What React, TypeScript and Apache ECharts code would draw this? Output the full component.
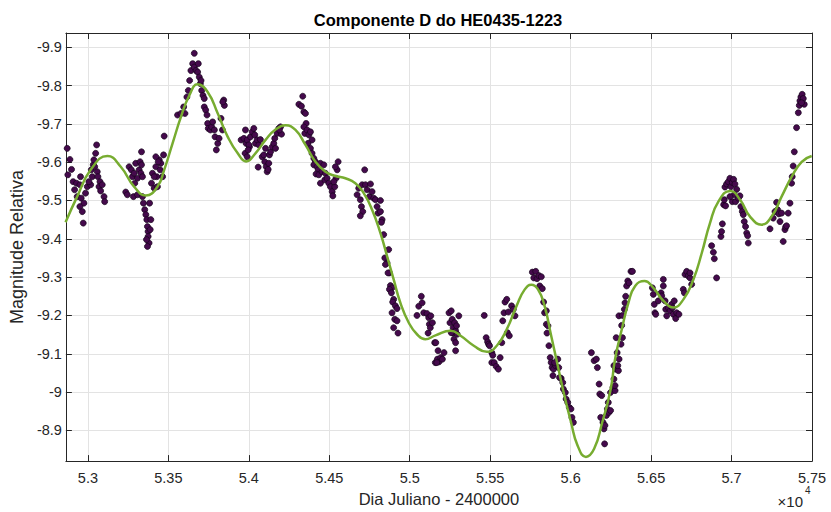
import React, { useEffect, useRef } from "react";
import * as echarts from "echarts";

// Fitted curve (Julian day - 2400000, relative magnitude)
const fitDays = [
  52861, 52933, 53017, 53121, 53204, 53287, 53360, 53432, 53474, 53526, 53578, 53630, 53682, 53744, 53807, 53869,
  53931, 53983, 54041, 54104, 54166, 54228, 54290, 54352, 54414, 54476, 54538, 54600, 54662, 54714, 54766, 54818,
  54859, 54900, 54942, 54994, 55045, 55097, 55160, 55254, 55316, 55398, 55480, 55541, 55603, 55664, 55715, 55756,
  55797, 55838, 55879, 55920, 55961, 56002, 56043, 56095, 56146, 56197, 56248, 56276, 56318, 56359, 56401, 56459,
  56514, 56577, 56639, 56701, 56763, 56815, 56866, 56918, 56991, 57053, 57115, 57187, 57249, 57311, 57374, 57436,
  57498,
];
const fitMag = [
  -9.443, -9.51, -9.58, -9.616, -9.588, -9.536, -9.513, -9.536, -9.58, -9.649, -9.718, -9.774, -9.803, -9.783, -9.727, -9.666,
  -9.623, -9.602, -9.623, -9.658, -9.685, -9.696, -9.684, -9.645, -9.601, -9.575, -9.564, -9.558, -9.545, -9.519, -9.476, -9.415,
  -9.355, -9.294, -9.233, -9.181, -9.151, -9.138, -9.148, -9.16, -9.147, -9.121, -9.105, -9.121, -9.164, -9.225, -9.268, -9.28,
  -9.268, -9.225, -9.147, -9.069, -8.991, -8.922, -8.861, -8.831, -8.852, -8.922, -9.006, -9.086, -9.164, -9.233, -9.277, -9.29,
  -9.272, -9.238, -9.221, -9.242, -9.294, -9.363, -9.441, -9.497, -9.525, -9.502, -9.458, -9.437, -9.458, -9.51, -9.562, -9.601,
  -9.616,
];

// Observations [day, magnitude], grouped by observing season
const obsA = [
  [52861, -9.649], [52871, -9.636], [52861, -9.617], [52888, -9.607], [52875, -9.567], [52898, -9.581], [52908, -9.549],
  [52929, -9.545], [52917, -9.528], [52954, -9.562], [52950, -9.541], [52933, -9.51], [52958, -9.506], [52975, -9.493],
  [52950, -9.484], [52965, -9.471], [52971, -9.441], [52985, -9.519], [52996, -9.536], [53017, -9.541], [53027, -9.562],
  [53021, -9.58], [53033, -9.593], [53037, -9.606], [53048, -9.623], [53054, -9.645], [53042, -9.588], [53058, -9.575],
  [53062, -9.562], [53075, -9.549], [53069, -9.536], [53089, -9.541], [53079, -9.525], [53100, -9.51], [53104, -9.497],
  [53006, -9.549],
];
const obsB = [
  [53235, -9.522], [53245, -9.515], [53256, -9.588], [53270, -9.58], [53277, -9.562], [53287, -9.571], [53291, -9.545],
  [53297, -9.597], [53308, -9.558], [53318, -9.58], [53324, -9.601], [53329, -9.571], [53333, -9.593], [53339, -9.562],
  [53283, -9.51], [53308, -9.515], [53339, -9.51], [53333, -9.627], [53345, -9.493], [53353, -9.476], [53360, -9.463],
  [53366, -9.45], [53370, -9.432], [53374, -9.419], [53374, -9.406], [53380, -9.389], [53370, -9.38], [53364, -9.398],
  [53387, -9.424], [53391, -9.45], [53383, -9.493], [53395, -9.545], [53401, -9.571], [53412, -9.532], [53422, -9.588],
  [53428, -9.562], [53432, -9.536], [53443, -9.606], [53449, -9.58], [53453, -9.597], [53464, -9.562], [53422, -9.614],
  [53470, -9.619], [53437, -9.601], [53412, -9.562], [53474, -9.668],
];
const obsC = [
  [53557, -9.723], [53578, -9.727], [53595, -9.744], [53603, -9.727], [53615, -9.77], [53624, -9.787], [53632, -9.813],
  [53640, -9.839], [53651, -9.857], [53661, -9.884], [53661, -9.848], [53672, -9.839], [53682, -9.835], [53686, -9.857],
  [53692, -9.822], [53699, -9.805], [53703, -9.813], [53707, -9.787], [53715, -9.774], [53723, -9.766], [53723, -9.744],
  [53732, -9.736], [53740, -9.723], [53744, -9.701], [53748, -9.688], [53761, -9.684], [53769, -9.692], [53775, -9.705],
  [53786, -9.684], [53790, -9.666], [53798, -9.632], [53807, -9.649], [53815, -9.662], [53827, -9.714], [53836, -9.684],
  [53844, -9.762], [53848, -9.748], [53838, -9.757],
];
const obsD = [
  [53952, -9.658], [53969, -9.662], [53983, -9.649], [53977, -9.623], [53990, -9.614], [54004, -9.64], [53979, -9.684],
  [53990, -9.658], [54000, -9.645], [53996, -9.632], [54010, -9.666], [54021, -9.679], [54031, -9.688], [54037, -9.671],
  [54041, -9.649], [54052, -9.658], [54062, -9.645], [54072, -9.659], [54058, -9.587], [54083, -9.614], [54093, -9.619],
  [54099, -9.601], [54108, -9.588], [54114, -9.575], [54120, -9.581], [54104, -9.636], [54124, -9.597], [54128, -9.619],
  [54135, -9.627], [54145, -9.64], [54155, -9.649], [54161, -9.662], [54166, -9.636], [54176, -9.675], [54186, -9.688],
  [54197, -9.692], [54203, -9.673], [54190, -9.684],
];
const obsE = [
  [54311, -9.751], [54327, -9.746], [54335, -9.772], [54342, -9.731], [54352, -9.727], [54356, -9.701], [54342, -9.692],
  [54348, -9.675], [54362, -9.684], [54373, -9.671], [54383, -9.679], [54393, -9.658], [54368, -9.649], [54383, -9.636],
  [54393, -9.623], [54404, -9.61], [54414, -9.601], [54404, -9.593], [54424, -9.588], [54431, -9.58], [54418, -9.569],
  [54435, -9.567], [54445, -9.597], [54455, -9.575], [54466, -9.593], [54476, -9.571], [54445, -9.545], [54472, -9.554],
  [54486, -9.558], [54497, -9.545], [54507, -9.536], [54518, -9.523], [54522, -9.512], [54534, -9.536], [54542, -9.558],
  [54549, -9.58], [54555, -9.601], [54538, -9.588], [54528, -9.549],
];
const obsF = [
  [54673, -9.515], [54683, -9.532], [54693, -9.502], [54704, -9.541], [54700, -9.484], [54708, -9.471], [54693, -9.46],
  [54720, -9.58], [54725, -9.541], [54735, -9.528], [54756, -9.543], [54749, -9.51], [54766, -9.523], [54776, -9.506],
  [54787, -9.502], [54797, -9.484], [54803, -9.467], [54818, -9.5], [54818, -9.471], [54828, -9.45], [54824, -9.443],
  [54838, -9.411], [54869, -9.372], [54845, -9.35], [54859, -9.337], [54849, -9.333], [54874, -9.311], [54865, -9.311],
  [54880, -9.278], [54890, -9.272], [54874, -9.268], [54886, -9.259], [54900, -9.242], [54894, -9.235], [54911, -9.225],
  [54921, -9.218], [54907, -9.19], [54921, -9.186], [54900, -9.168], [54927, -9.154], [54890, -9.207],
];
const obsG = [
  [55045, -9.2], [55056, -9.224], [55072, -9.25], [55077, -9.233], [55087, -9.207], [55107, -9.205], [55118, -9.194],
  [55122, -9.177], [55114, -9.154], [55128, -9.168], [55155, -9.129], [55159, -9.077], [55131, -9.199], [55141, -9.181],
  [55162, -9.129], [55176, -9.108], [55172, -9.086], [55182, -9.079], [55193, -9.09], [55203, -9.086], [55213, -9.103],
  [55168, -9.077], [55244, -9.207], [55250, -9.181], [55258, -9.212], [55264, -9.19], [55270, -9.168], [55279, -9.181],
  [55285, -9.16], [55291, -9.173], [55275, -9.138], [55270, -9.154], [55258, -9.155], [55285, -9.129], [55295, -9.151],
  [55305, -9.199], [55285, -9.108],
];
const obsH = [
  [55463, -9.2], [55475, -9.142], [55484, -9.131], [55490, -9.125], [55496, -9.121], [55510, -9.103], [55516, -9.096],
  [55510, -9.077], [55525, -9.077], [55537, -9.067], [55551, -9.06], [55562, -9.09], [55572, -9.129], [55578, -9.186],
  [55586, -9.207], [55592, -9.235], [55603, -9.242], [55613, -9.209], [55607, -9.155], [55619, -9.147], [55633, -9.225],
  [55644, -9.216], [55654, -9.199],
];
const obsI = [
  [55762, -9.313], [55771, -9.298], [55783, -9.315], [55791, -9.296], [55803, -9.304], [55818, -9.301], [55808, -9.277],
  [55824, -9.27], [55832, -9.235], [55838, -9.207], [55849, -9.212], [55849, -9.177], [55859, -9.173], [55853, -9.154],
  [55865, -9.121], [55873, -9.09], [55879, -9.077], [55885, -9.064], [55894, -9.06], [55890, -9.043], [55906, -9.069],
  [55920, -9.086], [55926, -9.064], [55941, -9.036], [55951, -9.025], [55955, -9.008], [55967, -8.999], [55972, -8.982],
  [55982, -8.973], [55992, -8.96], [56002, -8.956], [56008, -8.934], [56017, -8.921], [55931, -9.038], [55900, -9.077],
];
const obsJ = [
  [56129, -9.103], [56146, -9.082], [56160, -9.086], [56166, -9.064], [56177, -9.021], [56181, -8.995], [56193, -8.991],
  [56187, -8.934], [56201, -8.921], [56207, -8.904], [56213, -8.913], [56222, -8.939], [56228, -8.956], [56234, -8.973],
  [56238, -8.947], [56248, -8.952], [56211, -8.865], [56248, -8.999], [56263, -9.012], [56269, -9.034], [56279, -9.06],
  [56289, -9.103], [56283, -9.142], [56300, -9.199], [56269, -9.069], [56276, -9.004], [56276, -9.017], [56297, -9.056],
  [56293, -9.069], [56301, -9.086], [56313, -9.125], [56322, -9.142], [56317, -9.174], [56322, -9.2], [56334, -9.216],
  [56338, -9.233], [56342, -9.25], [56348, -9.277], [56355, -9.29], [56363, -9.285], [56375, -9.315], [56384, -9.315],
];
const obsK = [
  [56508, -9.272], [56514, -9.255], [56520, -9.229], [56524, -9.207], [56529, -9.203], [56545, -9.238], [56562, -9.259],
  [56566, -9.251], [56576, -9.277], [56576, -9.294], [56587, -9.238], [56591, -9.216], [56597, -9.199], [56607, -9.22],
  [56618, -9.212], [56628, -9.229], [56638, -9.203], [56644, -9.238], [56653, -9.192], [56659, -9.207], [56673, -9.203],
  [56632, -9.22], [56700, -9.268], [56707, -9.259], [56711, -9.307], [56721, -9.315], [56731, -9.303], [56742, -9.298],
  [56752, -9.281], [56742, -9.311],
];
const obsL = [
  [56876, -9.382], [56887, -9.365], [56893, -9.348], [56907, -9.298], [56934, -9.406], [56938, -9.419], [56943, -9.439],
  [56951, -9.489], [56955, -9.502], [56959, -9.535], [56969, -9.543], [56980, -9.549], [56990, -9.558], [56996, -9.536],
  [57005, -9.547], [57013, -9.555], [57021, -9.543], [57032, -9.529], [57017, -9.515], [57005, -9.497], [56990, -9.51],
  [57025, -9.497], [57042, -9.506], [57052, -9.512], [57058, -9.484], [57067, -9.471], [57079, -9.445], [57087, -9.432],
  [57094, -9.415], [57100, -9.408], [57104, -9.389], [57073, -9.463], [56963, -9.486],
];
const obsM = [
  [57239, -9.426], [57259, -9.454], [57270, -9.471], [57280, -9.495], [57286, -9.476], [57294, -9.465], [57301, -9.445],
  [57311, -9.467], [57321, -9.393], [57332, -9.424], [57336, -9.431], [57342, -9.434], [57352, -9.467], [57363, -9.493],
  [57373, -9.545], [57377, -9.562], [57383, -9.59], [57390, -9.627], [57404, -9.69], [57415, -9.729], [57421, -9.748],
  [57425, -9.76], [57431, -9.77], [57439, -9.777], [57446, -9.766], [57452, -9.751], [57435, -9.755],
];

const xMin = 52863;
const xMax = 57500;
const yMin = -9.937;
const yMax = -8.82;

const titleText = "Componente D do HE0435-1223";
const xName = "Dia Juliano - 2400000";
const yName = "Magnitude Relativa";

const FONT = "'Liberation Sans', Arial, Helvetica, sans-serif";
const TXT = "#262626";

export default function App() {
  const ref = useRef<HTMLDivElement>(null);
  useEffect(() => {
    if (!ref.current) return;
    const chart = echarts.init(ref.current, undefined, { renderer: "svg" });
    const observations = [
      ...obsA, ...obsB, ...obsC, ...obsD, ...obsE, ...obsF, ...obsG,
      ...obsH, ...obsI, ...obsJ, ...obsK, ...obsL, ...obsM,
    ];
    const fit = fitDays.map((d, i) => [d, fitMag[i]]);
    const common = {
      axisLine: { show: true, onZero: false, lineStyle: { color: TXT, width: 1 } },
      axisTick: { show: true, inside: true, length: 6, lineStyle: { color: TXT } },
    };
    chart.setOption({
      animation: false,
      backgroundColor: "#ffffff",
      grid: { left: 65, right: 19, top: 33, bottom: 50, containLabel: false },
      xAxis: [
        {
          type: "value",
          min: xMin,
          max: xMax,
          splitNumber: 9,
          minInterval: 500,
          maxInterval: 500,
          ...common,
          axisLabel: {
            showMinLabel: false,
            color: TXT,
            fontSize: 14.5,
            fontFamily: FONT,
            margin: 9,
            formatter: (v: number) => String(+(v / 10000).toFixed(4)),
          },
          splitLine: { show: true, lineStyle: { color: "#e3e3e3", width: 1 } },
          name: xName,
          nameLocation: "middle",
          nameGap: 28,
          nameTextStyle: { color: TXT, fontSize: 16.5, fontFamily: FONT },
        },
        {
          type: "value",
          position: "top",
          min: xMin,
          max: xMax,
          splitNumber: 9,
          minInterval: 500,
          maxInterval: 500,
          ...common,
          axisLabel: { show: false },
          splitLine: { show: false },
        },
      ],
      yAxis: [
        {
          type: "value",
          inverse: true,
          min: yMin,
          max: yMax,
          splitNumber: 11,
          minInterval: 0.1,
          maxInterval: 0.1,
          ...common,
          axisLabel: {
            showMinLabel: false,
            showMaxLabel: false,
            color: TXT,
            fontSize: 14.5,
            fontFamily: FONT,
            margin: 4,
            formatter: (v: number) => String(+v.toFixed(1)),
          },
          splitLine: { show: true, lineStyle: { color: "#e3e3e3", width: 1 } },
          name: yName,
          nameLocation: "middle",
          nameGap: 36,
          nameTextStyle: { color: TXT, fontSize: 18, fontFamily: FONT },
        },
        {
          type: "value",
          position: "right",
          inverse: true,
          min: yMin,
          max: yMax,
          splitNumber: 11,
          minInterval: 0.1,
          maxInterval: 0.1,
          ...common,
          axisLabel: { show: false },
          splitLine: { show: false },
        },
      ],
      graphic: [
        {
          type: "text",
          x: 438,
          y: 20,
          style: {
            text: titleText,
            fill: "#000000",
            font: `bold 16.5px ${FONT}`,
            textAlign: "center",
            textVerticalAlign: "middle",
          },
        },
        {
          type: "text",
          x: 803,
          y: 501,
          style: {
            text: "×10",
            fill: TXT,
            font: `15px ${FONT}`,
            textAlign: "right",
            textVerticalAlign: "middle",
          },
        },
        {
          type: "text",
          x: 805,
          y: 490,
          style: {
            text: "4",
            fill: TXT,
            font: `10px ${FONT}`,
            textAlign: "left",
            textVerticalAlign: "middle",
          },
        },
      ],
      series: [
        {
          type: "scatter",
          xAxisIndex: 0,
          yAxisIndex: 0,
          data: observations,
          symbol: "circle",
          symbolSize: 6,
          itemStyle: { color: "#450a4c", borderColor: "#14031a", borderWidth: 0.7, opacity: 1 },
          z: 2,
        },
        {
          type: "line",
          xAxisIndex: 0,
          yAxisIndex: 0,
          data: fit,
          smooth: true,
          showSymbol: false,
          symbol: "none",
          lineStyle: { color: "#77ac30", width: 2.5 },
          z: 3,
        },
      ],
    });
    return () => chart.dispose();
  }, []);
  return <div ref={ref} style={{ position: "fixed", left: 0, top: 0, width: 831, height: 512 }} />;
}
